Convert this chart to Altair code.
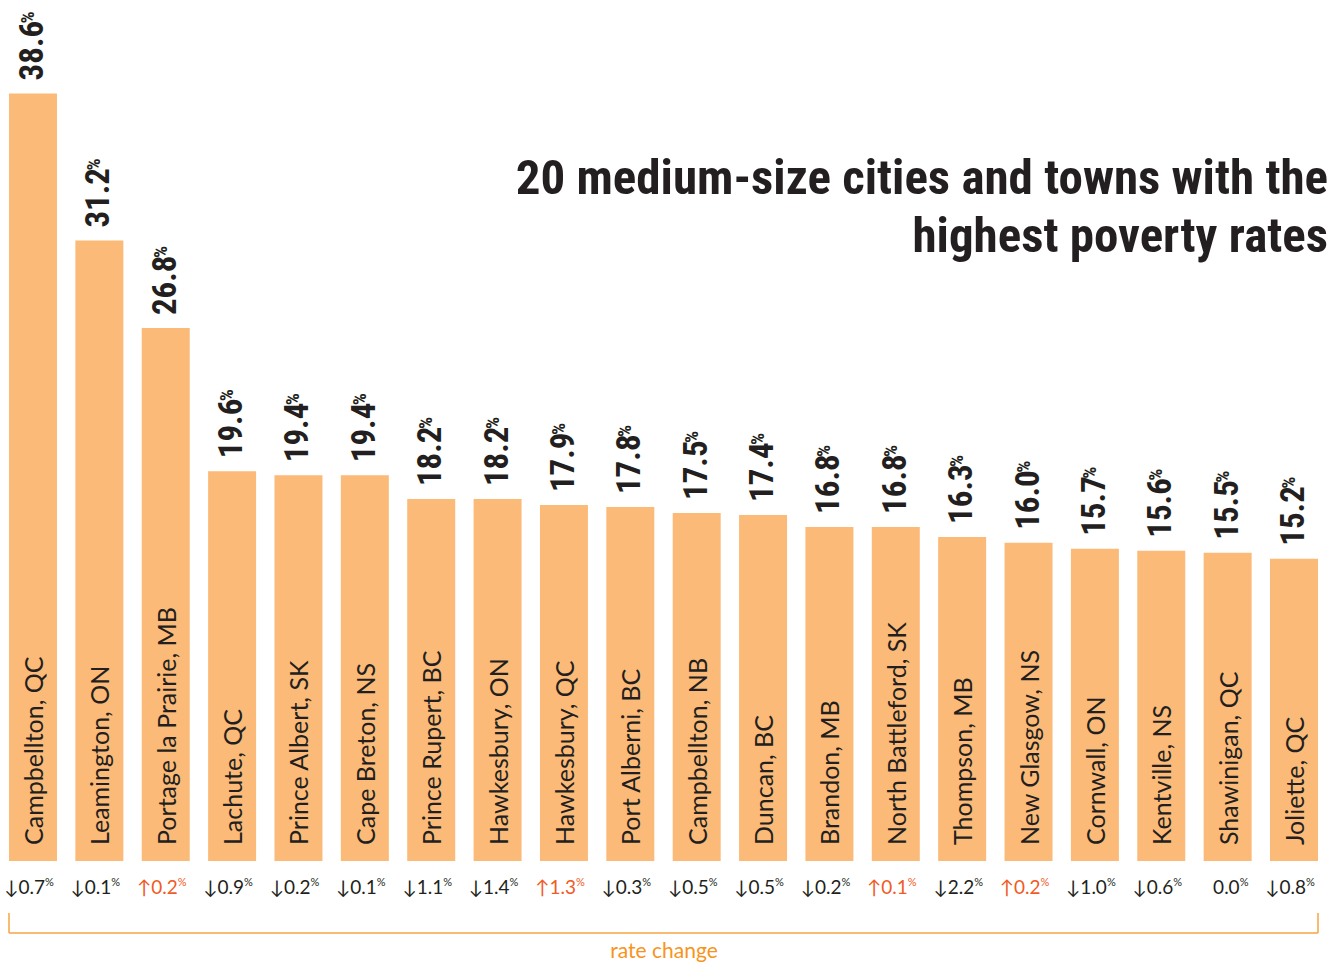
import altair as alt
import pandas as pd

cities = ["Campbellton, QC", "Leamington, ON", "Portage la Prairie, MB", "Lachute, QC",
          "Prince Albert, SK", "Cape Breton, NS", "Prince Rupert, BC", "Hawkesbury, ON",
          "Hawkesbury, QC", "Port Alberni, BC", "Campbellton, NB", "Duncan, BC",
          "Brandon, MB", "North Battleford, SK", "Thompson, MB", "New Glasgow, NS",
          "Cornwall, ON", "Kentville, NS", "Shawinigan, QC", "Joliette, QC"]
rates = [38.6, 31.2, 26.8, 19.6, 19.4, 19.4, 18.2, 18.2, 17.9, 17.8,
         17.5, 17.4, 16.8, 16.8, 16.3, 16.0, 15.7, 15.6, 15.5, 15.2]
changes = [-0.7, -0.1, 0.2, -0.9, -0.2, -0.1, -1.1, -1.4, 1.3, -0.3,
           -0.5, -0.5, -0.2, 0.1, -2.2, 0.2, -1.0, -0.6, 0.0, -0.8]

title_lines = ["20 medium-size cities and towns with the", "highest poverty rates"]


def arrow(c):
    return "\u2193" if c < 0 else ("\u2191" if c > 0 else "")


df = pd.DataFrame({
    "city": cities,
    "rate": rates,
    "change": changes,
    "rate_lbl": [f"{r:.1f}" for r in rates],
    "chg_lbl": [f"{arrow(c)}{abs(c):.1f}" for c in changes],
    "dir": ["up" if c > 0 else "down" for c in changes],
})

W, H = 1309, 861
COND = "Roboto Condensed"
HUM = "Lato, Liberation Sans, sans-serif"

x = alt.X("city:N", sort=cities,
          scale=alt.Scale(paddingInner=0.277, paddingOuter=0), axis=None)
y = alt.Y("rate:Q", scale=alt.Scale(domain=[0, 43.3], nice=False, zero=True), axis=None)

base = alt.Chart(df)

bars = base.mark_bar(color="#FBBA77").encode(x=x, y=y)

val_num = base.mark_text(angle=270, align="left", baseline="middle", dx=13,
                         font=COND, fontSize=33, fontWeight="bold",
                         color="#231F20").encode(x=x, y=y, text="rate_lbl:N")
val_pct = base.mark_text(angle=270, align="left", baseline="middle", dx=70, dy=-5,
                         font=COND, fontSize=19, fontWeight="bold",
                         color="#231F20").encode(x=x, y=y, text=alt.value("%"))

city_lbl = base.mark_text(angle=270, align="left", baseline="middle", dx=16, dy=2,
                          font=HUM, fontSize=25, color="#231F20").encode(
    x=x, y=alt.datum(0), text="city:N")

color_scale = alt.Scale(domain=["up", "down"], range=["#F15A24", "#231F20"])
chg_main = base.mark_text(align="right", baseline="middle", dx=12, font=HUM,
                          fontSize=19).encode(
    x=x, y=alt.value(888), text="chg_lbl:N",
    color=alt.Color("dir:N", scale=color_scale, legend=None))
chg_pct = base.mark_text(align="left", baseline="middle", dx=12, dy=-5, font=HUM,
                         fontSize=11).encode(
    x=x, y=alt.value(888), text=alt.value("%"),
    color=alt.Color("dir:N", scale=color_scale, legend=None))

one = alt.Chart(pd.DataFrame({"k": [0]}))
ORANGE = "#F7A540"
br_h = one.mark_rule(color=ORANGE, strokeWidth=1.5).encode(
    x=alt.value(0), x2=alt.value(1309), y=alt.value(933))
br_l = one.mark_rule(color=ORANGE, strokeWidth=1.5).encode(
    x=alt.value(0), y=alt.value(913), y2=alt.value(933))
br_r = one.mark_rule(color=ORANGE, strokeWidth=1.5).encode(
    x=alt.value(1309), y=alt.value(913), y2=alt.value(933))
rc_txt = one.mark_text(align="center", baseline="middle", font=HUM, fontSize=21,
                       color="#F7941D").encode(
    x=alt.value(655), y=alt.value(952), text=alt.value("rate change"))

title = one.mark_text(align="right", baseline="alphabetic", font=COND, fontSize=49,
                      fontWeight="bold", lineHeight=58, color="#231F20").encode(
    x=alt.value(1319), y=alt.value(194), text=alt.value(title_lines))

chart = alt.layer(bars, val_num, val_pct, city_lbl, chg_main, chg_pct,
                  br_h, br_l, br_r, rc_txt, title).properties(
    width=W, height=H,
    autosize=alt.AutoSizeParams(type="none"),
    padding={"left": 9, "right": 10, "top": 0, "bottom": 103},
    background="white",
).configure_view(stroke=None)

chart.save("out.html", embed_options={"renderer": "svg", "actions": False})
